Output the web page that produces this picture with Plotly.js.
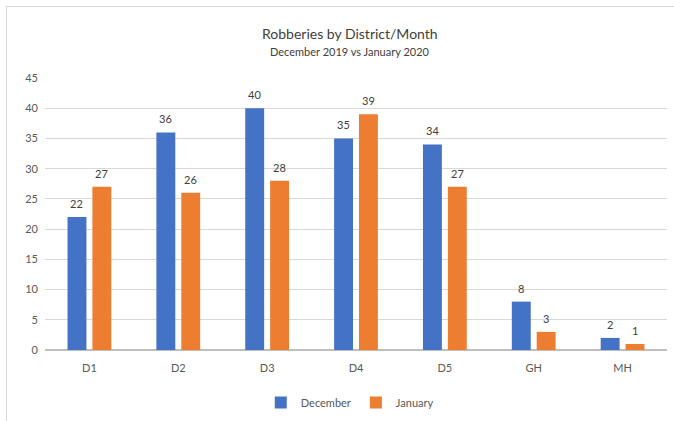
<!DOCTYPE html>
<html><head><meta charset="utf-8">
<script src="https://cdn.plot.ly/plotly-3.0.1.min.js"></script>
<style>
html,body{margin:0;padding:0;background:#fff;}
#wrap{position:relative;width:674px;height:421px;overflow:hidden;}
#chart{position:absolute;left:0;top:0;width:674px;height:421px;}
#frame{position:absolute;left:6px;top:6px;width:700px;height:430px;border:1px solid #d9d9d9;box-sizing:border-box;pointer-events:none;}
</style></head>
<body><div id="wrap"><div id="chart"></div><div id="frame"></div></div>
<script>
const categories = ["D1","D2","D3","D4","D5","GH","MH"];
const december = [22,36,40,35,34,8,2];
const january = [27,26,28,39,27,3,1];
const seriesNames = ["December","January"];
const colors = ["#4472c4","#ed7d31"];
const FONT = "Lato, 'Open Sans', sans-serif";

const traces = [december, january].map((vals,i)=>({
  type:"bar", x:categories, y:vals, name:seriesNames[i],
  marker:{color:colors[i], line:{color:"rgba(255,255,255,0)",width:0}},
  hoverinfo:"skip"
}));

const offsets = [-0.1406, 0.1406];
const annotations = [];
[december, january].forEach((vals,i)=>{
  vals.forEach((v,j)=>{
    annotations.push({x:j+offsets[i], y:v, xref:"x", yref:"y", text:String(v),
      showarrow:false, yanchor:"bottom", yshift:5,
      font:{family:FONT,size:11,color:"#404040"}});
  });
});
annotations.push({text:"Robberies by District/Month", xref:"paper", yref:"paper",
  x:0.49, y:1, yanchor:"bottom", yshift:34, showarrow:false,
  font:{family:FONT,size:14,color:"#404040"}});
annotations.push({text:"December 2019 vs January 2020", xref:"paper", yref:"paper",
  x:0.49, y:1, yanchor:"bottom", yshift:18, showarrow:false,
  font:{family:FONT,size:11,color:"#404040"}});

const layout = {
  width:674, height:421,
  margin:{l:45, r:7, t:78, b:71, autoexpand:false},
  paper_bgcolor:"#fff", plot_bgcolor:"#fff",
  barmode:"group", bargap:0.44, bargroupgap:0.24,
  font:{family:FONT, size:11, color:"#595959"},
  showlegend:true,
  legend:{orientation:"h", x:0.49, xanchor:"center", y:-0.14, yanchor:"top",
    font:{family:FONT,size:11,color:"#595959"}, itemwidth:30, tracegroupgap:0},
  xaxis:{type:"category", showgrid:false, showline:false, ticks:"", ticklabelstandoff:10,
    tickfont:{family:FONT,size:11,color:"#595959"}, fixedrange:true},
  yaxis:{range:[0,45], dtick:5, tick0:0, showgrid:true, gridcolor:"#d9d9d9", gridwidth:1,
    zeroline:true, zerolinecolor:"#bfbfbf", zerolinewidth:1.5, showline:false, ticks:"",
    ticklabelstandoff:6,
    tickfont:{family:FONT,size:11,color:"#595959"}, fixedrange:true},
  annotations:annotations
};
Plotly.newPlot("chart", traces, layout, {staticPlot:true, displayModeBar:false});
</script></body></html>
